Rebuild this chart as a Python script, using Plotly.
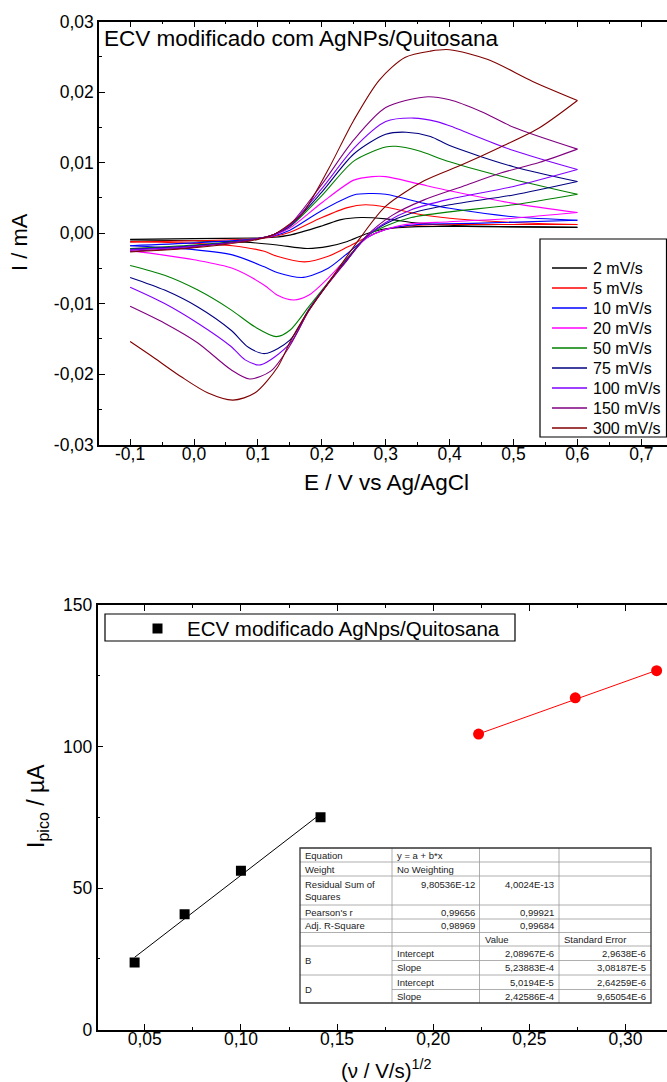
import plotly.graph_objects as go

W, H = 667, 1082
FONT = "Liberation Sans, Arial, sans-serif"

# ---------------- top chart: cyclic voltammograms (E / V, I / mA) ----------------
scan_labels = ["2 mV/s", "5 mV/s", "10 mV/s", "20 mV/s", "50 mV/s",
               "75 mV/s", "100 mV/s", "150 mV/s", "300 mV/s"]
scan_colors = ["#000000", "#FF0000", "#0000FF", "#FF00FF", "#008000",
               "#000080", "#8000FF", "#800080", "#800000"]

E_fwd_2 = [-0.10, 0.00, 0.10, 0.125, 0.15, 0.20, 0.23, 0.262, 0.30, 0.35, 0.40, 0.50, 0.60]
I_fwd_2 = [-0.0009, -0.0008, -0.0007, -0.0006, -0.0003, 0.0010, 0.0019, 0.0022, 0.0020, 0.0014, 0.0011, 0.0009, 0.0008]
E_rev_2 = [0.60, 0.45, 0.35, 0.30, 0.27, 0.24, 0.21, 0.177, 0.13, 0.08, 0.00, -0.10]
I_rev_2 = [0.0008, 0.0009, 0.0009, 0.0006, -0.0001, -0.0012, -0.0019, -0.0022, -0.0017, -0.0013, -0.0011, -0.0010]

E_fwd_5 = [-0.10, 0.00, 0.10, 0.125, 0.15, 0.20, 0.24, 0.268, 0.30, 0.35, 0.40, 0.50, 0.60]
I_fwd_5 = [-0.0013, -0.0011, -0.0008, -0.0005, 0.0001, 0.0022, 0.0036, 0.0040, 0.0037, 0.0027, 0.0021, 0.0015, 0.0012]
E_rev_5 = [0.60, 0.45, 0.35, 0.30, 0.27, 0.24, 0.21, 0.173, 0.13, 0.11, 0.06, -0.02, -0.10]
I_rev_5 = [0.0012, 0.0012, 0.0011, 0.0005, -0.0006, -0.0020, -0.0033, -0.0041, -0.0033, -0.0026, -0.0018, -0.0014, -0.0012]

E_fwd_10 = [-0.10, 0.00, 0.10, 0.125, 0.15, 0.20, 0.25, 0.276, 0.30, 0.36, 0.40, 0.50, 0.60]
I_fwd_10 = [-0.0018, -0.0014, -0.0008, -0.0004, 0.0004, 0.0032, 0.0054, 0.0056, 0.0055, 0.0042, 0.0035, 0.0023, 0.0018]
E_rev_10 = [0.60, 0.45, 0.35, 0.30, 0.27, 0.24, 0.21, 0.171, 0.13, 0.11, 0.06, -0.02, -0.10]
I_rev_10 = [0.0018, 0.0014, 0.0012, 0.0005, -0.0007, -0.0029, -0.0050, -0.0063, -0.0056, -0.0048, -0.0031, -0.0022, -0.0018]

E_fwd_20 = [-0.10, 0.00, 0.10, 0.125, 0.15, 0.20, 0.25, 0.279, 0.30, 0.35, 0.40, 0.50, 0.60]
I_fwd_20 = [-0.0022, -0.0018, -0.0008, -0.0003, 0.0007, 0.0043, 0.0075, 0.0080, 0.0080, 0.0070, 0.0060, 0.0042, 0.0029]
E_rev_20 = [0.60, 0.50, 0.40, 0.33, 0.30, 0.27, 0.24, 0.21, 0.18, 0.156, 0.13, 0.11, 0.06, 0.00, -0.05, -0.10]
I_rev_20 = [0.0029, 0.0021, 0.0016, 0.0012, 0.0005, -0.0007, -0.0035, -0.0064, -0.0088, -0.0095, -0.0088, -0.0074, -0.0050, -0.0038, -0.0031, -0.0025]

E_fwd_50 = [-0.10, 0.00, 0.10, 0.125, 0.15, 0.20, 0.25, 0.30, 0.316, 0.35, 0.40, 0.50, 0.60]
I_fwd_50 = [-0.0022, -0.0017, -0.0008, -0.0002, 0.0009, 0.0053, 0.0102, 0.0122, 0.0123, 0.0117, 0.0101, 0.0076, 0.0055]
E_rev_50 = [0.60, 0.50, 0.40, 0.34, 0.30, 0.27, 0.24, 0.21, 0.18, 0.15, 0.129, 0.095, 0.058, 0.006, -0.046, -0.10]
I_rev_50 = [0.0055, 0.0040, 0.0030, 0.0022, 0.0010, -0.0005, -0.0036, -0.0070, -0.0104, -0.0138, -0.0147, -0.0133, -0.0109, -0.0081, -0.0060, -0.0046]

E_fwd_75 = [-0.10, 0.00, 0.10, 0.125, 0.15, 0.20, 0.25, 0.30, 0.332, 0.37, 0.40, 0.50, 0.60]
I_fwd_75 = [-0.0023, -0.0018, -0.0008, -0.0002, 0.0010, 0.0058, 0.0112, 0.0140, 0.0143, 0.0137, 0.0124, 0.0094, 0.0073]
E_rev_75 = [0.60, 0.50, 0.40, 0.34, 0.30, 0.27, 0.24, 0.21, 0.18, 0.15, 0.111, 0.085, 0.058, 0.006, -0.046, -0.10]
I_rev_75 = [0.0073, 0.0054, 0.0040, 0.0028, 0.0013, -0.0005, -0.0037, -0.0071, -0.0108, -0.0152, -0.0171, -0.0162, -0.0138, -0.0105, -0.0081, -0.0063]

E_fwd_100 = [-0.10, 0.00, 0.10, 0.125, 0.15, 0.20, 0.25, 0.30, 0.344, 0.38, 0.40, 0.50, 0.60]
I_fwd_100 = [-0.0024, -0.0019, -0.0008, -0.0002, 0.0011, 0.0063, 0.0120, 0.0158, 0.0163, 0.0158, 0.0152, 0.0117, 0.0090]
E_rev_100 = [0.60, 0.50, 0.40, 0.34, 0.30, 0.27, 0.24, 0.21, 0.18, 0.15, 0.104, 0.08, 0.058, 0.006, -0.046, -0.10]
I_rev_100 = [0.0090, 0.0066, 0.0048, 0.0033, 0.0015, -0.0005, -0.0038, -0.0071, -0.0109, -0.0157, -0.0187, -0.0180, -0.0161, -0.0128, -0.0100, -0.0077]

E_fwd_150 = [-0.10, 0.00, 0.10, 0.125, 0.15, 0.20, 0.25, 0.30, 0.362, 0.40, 0.45, 0.50, 0.60]
I_fwd_150 = [-0.0026, -0.0020, -0.0008, -0.0002, 0.0012, 0.0069, 0.0132, 0.0178, 0.0193, 0.0189, 0.0172, 0.0150, 0.0119]
E_rev_150 = [0.60, 0.54, 0.48, 0.42, 0.36, 0.31, 0.27, 0.24, 0.21, 0.18, 0.15, 0.12, 0.087, 0.058, 0.006, -0.046, -0.10]
I_rev_150 = [0.0119, 0.0100, 0.0085, 0.0066, 0.0047, 0.0025, -0.0004, -0.0038, -0.0072, -0.0110, -0.0160, -0.0196, -0.0207, -0.0194, -0.0156, -0.0128, -0.0104]

E_fwd_300 = [-0.10, 0.00, 0.10, 0.125, 0.15, 0.17, 0.21, 0.25, 0.29, 0.33, 0.37, 0.40, 0.46, 0.53, 0.60]
I_fwd_300 = [-0.0027, -0.0021, -0.0009, -0.0002, 0.0013, 0.0028, 0.0090, 0.0160, 0.0217, 0.0249, 0.0258, 0.0260, 0.0246, 0.0215, 0.0188]
E_rev_300 = [0.60, 0.54, 0.48, 0.42, 0.36, 0.30, 0.26, 0.22, 0.195, 0.173, 0.15, 0.131, 0.095, 0.061, 0.022, -0.020, -0.061, -0.10]
I_rev_300 = [0.0188, 0.0149, 0.0122, 0.0097, 0.0074, 0.0038, -0.0007, -0.0058, -0.0090, -0.0119, -0.0155, -0.0190, -0.0227, -0.0237, -0.0227, -0.0204, -0.0178, -0.0154]

top_xticks = [-0.1, 0.0, 0.1, 0.2, 0.3, 0.4, 0.5, 0.6, 0.7]
top_xticklabels = ["-0,1", "0,0", "0,1", "0,2", "0,3", "0,4", "0,5", "0,6", "0,7"]
top_yticks = [-0.03, -0.02, -0.01, 0.00, 0.01, 0.02, 0.03]
top_yticklabels = ["-0,03", "-0,02", "-0,01", "0,00", "0,01", "0,02", "0,03"]

# ---------------- bottom chart: peak current vs sqrt(scan rate) ----------------
sqrt_v_low = [0.0447, 0.0707, 0.1000, 0.1414]
ipico_low = [23.7, 40.7, 56.1, 75.0]
sqrt_v_high = [0.2236, 0.2739, 0.3162]
ipico_high = [104.4, 117.2, 126.8]
fit_B = (2.08967e-6, 5.23883e-4)   # intercept, slope (A)
fit_D = (5.0194e-5, 2.42586e-4)
bottom_legend_label = "ECV modificado AgNps/Quitosana"

bot_xticks = [0.05, 0.10, 0.15, 0.20, 0.25, 0.30]
bot_xticklabels = ["0,05", "0,10", "0,15", "0,20", "0,25", "0,30"]
bot_yticks = [0, 50, 100, 150]
bot_yticklabels = ["0", "50", "100", "150"]

table_rows = [
    ["Equation", "y = a + b*x", "", ""],
    ["Weight", "No Weighting", "", ""],
    ["Residual Sum of<br>Squares", "9,80536E-12", "4,0024E-13", ""],
    ["Pearson's r", "0,99656", "0,99921", ""],
    ["Adj. R-Square", "0,98969", "0,99684", ""],
    ["", "", "Value", "Standard Error"],
    ["B", "Intercept", "2,08967E-6", "2,9638E-6"],
    ["", "Slope", "5,23883E-4", "3,08187E-5"],
    ["D", "Intercept", "5,0194E-5", "2,64259E-6"],
    ["", "Slope", "2,42586E-4", "9,65054E-6"],
]

# ---------------- layout helpers (pixel -> paper) ----------------
def px(x):
    return x / W

def py(y):
    return 1 - y / H

fig = go.Figure()

cv_sets = [
    (E_fwd_2, I_fwd_2, E_rev_2, I_rev_2),
    (E_fwd_5, I_fwd_5, E_rev_5, I_rev_5),
    (E_fwd_10, I_fwd_10, E_rev_10, I_rev_10),
    (E_fwd_20, I_fwd_20, E_rev_20, I_rev_20),
    (E_fwd_50, I_fwd_50, E_rev_50, I_rev_50),
    (E_fwd_75, I_fwd_75, E_rev_75, I_rev_75),
    (E_fwd_100, I_fwd_100, E_rev_100, I_rev_100),
    (E_fwd_150, I_fwd_150, E_rev_150, I_rev_150),
    (E_fwd_300, I_fwd_300, E_rev_300, I_rev_300),
]
for name, color, (ef, i_f, er, ir) in zip(scan_labels, scan_colors, cv_sets):
    ls = dict(color=color, width=1.1, shape="spline", smoothing=0.8)
    fig.add_trace(go.Scatter(x=ef, y=i_f, mode="lines", line=ls, name=name,
                             showlegend=False, xaxis="x", yaxis="y"))
    fig.add_trace(go.Scatter(x=er, y=ir, mode="lines", line=ls, name=name,
                             showlegend=False, xaxis="x", yaxis="y"))

# fitted lines (µA)
for xs, (a, b), col in [(sqrt_v_low, fit_B, "black"), (sqrt_v_high, fit_D, "red")]:
    x_line = [min(xs), max(xs)]
    y_line = [(a + b * v) * 1e6 for v in x_line]
    fig.add_trace(go.Scatter(x=x_line, y=y_line, mode="lines",
                             line=dict(color=col, width=1), showlegend=False,
                             xaxis="x2", yaxis="y2"))

fig.add_trace(go.Scatter(x=sqrt_v_low, y=ipico_low, mode="markers",
                         marker=dict(symbol="square", size=10, color="black"),
                         name=bottom_legend_label, showlegend=False,
                         xaxis="x2", yaxis="y2"))
fig.add_trace(go.Scatter(x=sqrt_v_high, y=ipico_high, mode="markers",
                         marker=dict(symbol="circle", size=11, color="red"),
                         showlegend=False, xaxis="x2", yaxis="y2"))

tickfont = dict(family=FONT, size=17.5, color="black")
axis_common = dict(showline=True, linecolor="black", linewidth=1.5, ticks="inside",
                   ticklen=6, tickwidth=1, tickcolor="black", showgrid=False,
                   zeroline=False, tickfont=tickfont, automargin=False)

fig.update_layout(
    width=W, height=H,
    margin=dict(l=0, r=0, t=0, b=0),
    paper_bgcolor="white", plot_bgcolor="white",
    font=dict(family=FONT, color="black"),
    showlegend=False,
    xaxis=dict(domain=[px(99), 1], range=[-0.1487, 0.7402], anchor="y",
               tickmode="array", tickvals=top_xticks, ticktext=top_xticklabels,
               mirror="ticks", ticklabelstandoff=-7,
               minor=dict(tickmode="linear", tick0=0, dtick=0.05, ticks="inside",
                          ticklen=3, tickcolor="black"),
               **axis_common),
    yaxis=dict(domain=[py(444.5), py(21.5)], range=[-0.03, 0.03], anchor="x",
               tickmode="array", tickvals=top_yticks, ticktext=top_yticklabels,
               minor=dict(tickmode="linear", tick0=0, dtick=0.005, ticks="inside",
                          ticklen=3, tickcolor="black"),
               **axis_common),
    xaxis2=dict(domain=[px(97.5), 1], range=[0.0254, 0.3216], anchor="y2",
                tickmode="array", tickvals=bot_xticks, ticktext=bot_xticklabels,
                mirror="ticks", ticklabelstandoff=-7,
                minor=dict(tickmode="linear", tick0=0, dtick=0.025, ticks="inside",
                           ticklen=3, tickcolor="black"),
                **axis_common),
    yaxis2=dict(domain=[py(1029.5), py(605)], range=[0, 150], anchor="x2",
                tickmode="array", tickvals=bot_yticks, ticktext=bot_yticklabels,
                minor=dict(tickmode="linear", tick0=0, dtick=25, ticks="inside",
                           ticklen=3, tickcolor="black"),
                **axis_common),
)

shapes = []
annotations = []

# ---- top legend (drawn box with line samples) ----
shapes.append(dict(type="rect", xref="paper", yref="paper", layer="above",
                   x0=px(540), x1=px(666.5), y0=py(437), y1=py(239),
                   line=dict(color="black", width=1.2), fillcolor="white"))
for i, (name, color) in enumerate(zip(scan_labels, scan_colors)):
    yy = 268 + 20 * i
    shapes.append(dict(type="line", xref="paper", yref="paper", layer="above",
                       x0=px(552), x1=px(587), y0=py(yy), y1=py(yy),
                       line=dict(color=color, width=1.3)))
    annotations.append(dict(text=name, x=px(591), y=py(yy), xanchor="left",
                            yanchor="middle", font=dict(size=16)))

# ---- bottom legend ----
shapes.append(dict(type="rect", xref="paper", yref="paper",
                   x0=px(105), x1=px(515), y0=py(641), y1=py(614),
                   line=dict(color="black", width=1.2)))
shapes.append(dict(type="rect", xref="paper", yref="paper",
                   x0=px(152.5), x1=px(162.5), y0=py(633.5), y1=py(623.5),
                   line=dict(color="black", width=0), fillcolor="black"))
annotations.append(dict(text=bottom_legend_label, x=px(185), y=py(628),
                        xanchor="left", yanchor="middle", font=dict(size=20.5)))

# ---- titles / axis labels ----
annotations += [
    dict(text="ECV modificado com AgNPs/Quitosana", x=px(102), y=py(38),
         xanchor="left", yanchor="middle", font=dict(size=22.5)),
    dict(text="E / V vs Ag/AgCl", x=px(386), y=py(482), xanchor="center",
         yanchor="middle", font=dict(size=22.5)),
    dict(text="I / mA", x=px(20), y=py(242), xanchor="center", yanchor="middle",
         textangle=-90, font=dict(size=22)),
    dict(text="(ν / V/s)<sup>1/2</sup>", x=px(386), y=py(1069), xanchor="center",
         yanchor="middle", font=dict(size=20.5)),
    dict(text="I<sub>pico</sub> / µA", x=px(37), y=py(806), xanchor="center",
         yanchor="middle", textangle=-90, font=dict(size=23)),
]

# ---- statistics table ----
col_x = [300, 392, 479.5, 559, 651]
row_y = [848, 862, 876, 905, 919, 932.5, 946, 960.5, 975, 989.5, 1003]
inner = dict(color="#9a9a9a", width=0.8)
for i, y in enumerate(row_y[1:-1], start=1):
    x_start = col_x[1] if i in (7, 9) else col_x[0]
    shapes.append(dict(type="line", xref="paper", yref="paper", x0=px(x_start), x1=px(col_x[-1]),
                       y0=py(y), y1=py(y), line=inner))
for x in col_x[1:-1]:
    shapes.append(dict(type="line", xref="paper", yref="paper", x0=px(x), x1=px(x),
                       y0=py(row_y[0]), y1=py(row_y[-1]), line=inner))
shapes.append(dict(type="rect", xref="paper", yref="paper", x0=px(col_x[0]), x1=px(col_x[-1]),
                   y0=py(row_y[-1]), y1=py(row_y[0]), line=dict(color="#333333", width=1.3)))

tfont = dict(size=9.5, color="#222222")
for r, row in enumerate(table_rows):
    top, bot = row_y[r], row_y[r + 1]
    for c, txt in enumerate(row):
        if not txt:
            continue
        if c == 0 and txt in ("B", "D"):
            yc = (top + row_y[r + 2]) / 2
            annotations.append(dict(text=txt, x=px(col_x[0] + 3), y=py(yc), xanchor="left",
                                    yanchor="middle", font=tfont))
            continue
        if txt[0].isdigit():
            x, xa = col_x[c + 1] - 3, "right"
        else:
            x, xa = col_x[c] + 3, "left"
        if r == 2:
            y, ya = top + 1, "top"
        else:
            y, ya = (top + bot) / 2, "middle"
        annotations.append(dict(text=txt, x=px(x), y=py(y), xanchor=xa, yanchor=ya,
                                align="left", font=tfont))

for a in annotations:
    a.setdefault("showarrow", False)
    a.setdefault("xref", "paper")
    a.setdefault("yref", "paper")
    a["font"] = {**dict(family=FONT, color="black"), **a["font"]}

fig.update_layout(shapes=shapes, annotations=annotations)
fig.write_html("out.html")
